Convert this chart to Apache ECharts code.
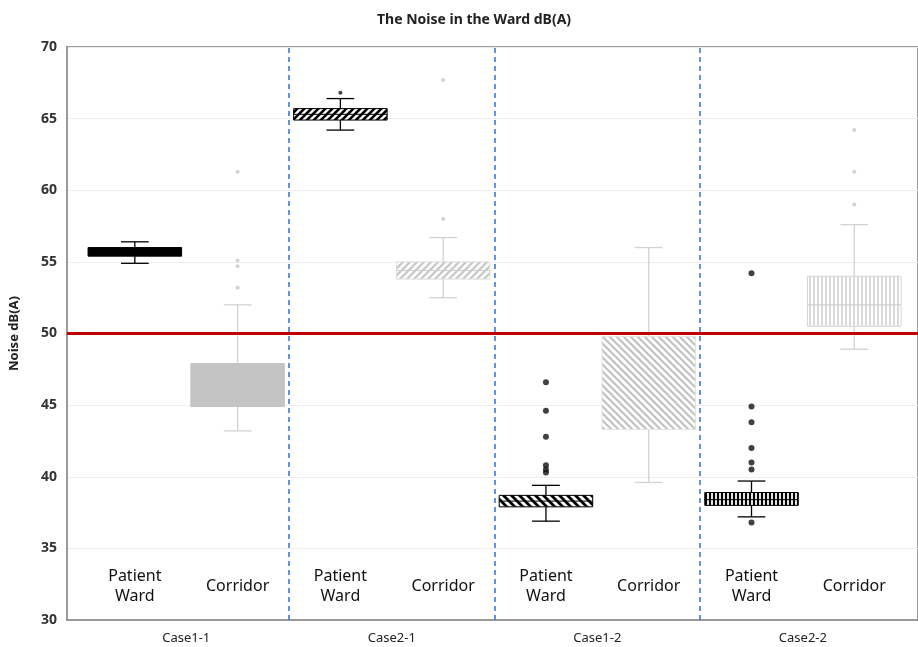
<!DOCTYPE html>
<html><head><meta charset="utf-8">
<script src="https://cdn.jsdelivr.net/npm/echarts@6/dist/echarts.min.js"></script>
<style>html,body{margin:0;padding:0;background:#fff}#c{width:918px;height:647px}</style>
</head><body><div id="c"></div>
<script>
// ---- data ----
const groupLabels = ['Patient\nWard', 'Corridor', 'Patient\nWard', 'Corridor', 'Patient\nWard', 'Corridor', 'Patient\nWard', 'Corridor'];
const caseLabels = ['Case1-1', 'Case2-1', 'Case1-2', 'Case2-2'];
const yTicks = [30, 35, 40, 45, 50, 55, 60, 65, 70];
const boxMin = [54.9, 43.2, 64.2, 52.5, 36.9, 39.6, 37.2, 48.9];
const boxQ1  = [55.4, 44.9, 64.9, 53.8, 37.9, 43.3, 38.0, 50.5];
const boxMed = [55.7, 46.0, 65.3, 54.4, 38.3, 46.5, 38.4, 52.0];
const boxQ3  = [56.0, 47.9, 65.7, 55.0, 38.7, 49.8, 38.9, 54.0];
const boxMax = [56.4, 52.0, 66.4, 56.7, 39.4, 56.0, 39.7, 57.6];
const wardOutliers = [[2, 66.8], [4, 46.6], [4, 44.6], [4, 42.8], [4, 40.8], [4, 40.5], [4, 40.3],
  [6, 54.2], [6, 44.9], [6, 43.8], [6, 42.0], [6, 41.0], [6, 40.5], [6, 36.8]];
const corridorOutliers = [[1, 61.3], [1, 55.1], [1, 54.7], [1, 53.2], [3, 67.7], [3, 58.0], [7, 64.2], [7, 61.3], [7, 59.0]];
const limitValue = 50;
const caseBoundaries = [1.5, 3.5, 5.5];

// ---- patterns ----
function hatch(color, bg, s, lw, dir) {
  const c = document.createElement('canvas');
  c.width = s; c.height = s;
  const g = c.getContext('2d');
  g.fillStyle = bg; g.fillRect(0, 0, s, s);
  g.strokeStyle = color; g.lineWidth = lw; g.lineCap = 'square';
  g.beginPath();
  if (dir === '|') {
    g.moveTo(s / 2, -1); g.lineTo(s / 2, s + 1);
  } else {
    for (const k of [-s, 0, s]) {
      if (dir === '/') { g.moveTo(k, s); g.lineTo(k + s, 0); }
      else { g.moveTo(k, 0); g.lineTo(k + s, s); }
    }
  }
  g.stroke();
  return { image: c, repeat: 'repeat' };
}
const grey = '#c6c6c6';
const boxStyles = [
  { fill: '#000', stroke: '#000', whisker: '#000', median: '#000' },
  { fill: '#c4c4c4', stroke: '#c4c4c4', whisker: '#d2d2d2', median: '#c4c4c4' },
  { fill: hatch('#000', '#fff', 7, 2.6, '/'), stroke: '#000', whisker: '#000', median: '#000' },
  { fill: hatch(grey, '#fbfbfb', 7, 2, '/'), stroke: '#dddddd', whisker: '#d2d2d2', median: '#cfcfcf' },
  { fill: hatch('#000', '#fff', 8, 2.8, '\\'), stroke: '#000', whisker: '#000', median: '#000' },
  { fill: hatch('#c2c2c2', '#fff', 7, 2.2, '\\'), stroke: '#e4e4e4', whisker: '#d2d2d2', median: null },
  { fill: hatch('#000', '#fff', 4, 2.2, '|'), stroke: '#000', whisker: '#000', median: '#000' },
  { fill: hatch('#c2c2c2', '#fff', 4, 1.2, '|'), stroke: '#d6d6d6', whisker: '#d2d2d2', median: '#c8c8c8' }
];

const boxData = boxMin.map((m, i) => [i, m, boxQ1[i], boxMed[i], boxQ3[i], boxMax[i]]);

function renderBox(params, api) {
  const i = api.value(0);
  const st = boxStyles[i];
  const x = api.coord([i, 0])[0];
  const yMin = api.coord([i, api.value(1)])[1];
  const yQ1 = api.coord([i, api.value(2)])[1];
  const yMed = api.coord([i, api.value(3)])[1];
  const yQ3 = api.coord([i, api.value(4)])[1];
  const yMax = api.coord([i, api.value(5)])[1];
  const w = api.size([0.91, 0])[0];
  const cw = api.size([0.27, 0])[0];
  const ls = { stroke: st.whisker, lineWidth: 1.3 };
  const children = [
    { type: 'line', shape: { x1: x, y1: yMax, x2: x, y2: yQ3 }, style: ls },
    { type: 'line', shape: { x1: x, y1: yQ1, x2: x, y2: yMin }, style: ls },
    { type: 'line', shape: { x1: x - cw / 2, y1: yMax, x2: x + cw / 2, y2: yMax }, style: ls },
    { type: 'line', shape: { x1: x - cw / 2, y1: yMin, x2: x + cw / 2, y2: yMin }, style: ls },
    { type: 'rect', shape: { x: x - w / 2, y: yQ3, width: w, height: yQ1 - yQ3 },
      style: { fill: st.fill, stroke: st.stroke, lineWidth: 1 } }
  ];
  if (st.median) {
    children.push({ type: 'line', shape: { x1: x - w / 2, y1: yMed, x2: x + w / 2, y2: yMed }, style: { stroke: st.median, lineWidth: 1 } });
  }
  return { type: 'group', children };
}

const xMin = -0.66, xMax = 7.62;
const chart = echarts.init(document.getElementById('c'), null, { renderer: 'canvas' });
chart.setOption({
  animation: false,
  backgroundColor: '#fff',
  title: {
    text: 'The Noise in the Ward dB(A)', left: 372, top: 8,
    textStyle: { fontSize: 14, fontWeight: 'bold', color: '#222', fontFamily: 'Noto Sans' }
  },
  grid: { left: 67, top: 47, right: -2, bottom: 27, show: true, borderColor: '#9a9a9a', borderWidth: 2 },
  xAxis: [{
    type: 'value', min: xMin, max: xMax, position: 'bottom',
    axisLine: { show: true, onZero: false, lineStyle: { color: '#9a9a9a', width: 2 } },
    axisTick: { show: false }, splitLine: { show: false },
    axisLabel: {
      customValues: groupLabels.map((_, i) => i), inside: true, margin: 34, verticalAlign: 'middle',
      formatter: v => groupLabels[Math.round(v)], fontSize: 16, lineHeight: 20, color: '#111', fontFamily: 'Noto Sans'
    }
  }, {
    type: 'value', min: xMin, max: xMax, position: 'bottom',
    axisLine: { show: false, onZero: false }, axisTick: { show: false }, splitLine: { show: false },
    axisLabel: {
      customValues: caseLabels.map((_, i) => i * 2 + 0.5), margin: 12,
      formatter: v => caseLabels[Math.round((v - 0.5) / 2)], fontSize: 13, color: '#222', fontFamily: 'Noto Sans'
    }
  }],
  yAxis: {
    type: 'value', min: yTicks[0], max: yTicks[yTicks.length - 1], interval: 5,
    name: 'Noise dB(A)', nameLocation: 'middle', nameGap: 46,
    nameTextStyle: { fontWeight: 'bold', fontSize: 13, color: '#222', fontFamily: 'Noto Sans' },
    axisLine: { show: true, onZero: false, lineStyle: { color: '#9a9a9a', width: 2 } },
    axisTick: { show: false },
    axisLabel: { fontWeight: 'bold', fontSize: 14, color: '#333', margin: 10, fontFamily: 'Noto Sans' },
    splitLine: { lineStyle: { color: '#eeeeee', width: 1 } }
  },
  series: [{
    type: 'custom', renderItem: renderBox, data: boxData,
    encode: { x: 0, y: [1, 2, 3, 4, 5] }, z: 3, silent: true
  }, {
    type: 'scatter', data: wardOutliers, symbol: 'circle', symbolSize: v => (v[0] === 2 ? 4 : 6),
    itemStyle: { color: '#111' }, z: 4, silent: true
  }, {
    type: 'scatter', data: corridorOutliers, symbol: 'circle', symbolSize: 4,
    itemStyle: { color: '#c8c8c8' }, z: 4, silent: true
  }, {
    type: 'line', data: [], z: 5, silent: true,
    markLine: {
      silent: true, symbol: ['none', 'none'], label: { show: false },
      lineStyle: { color: '#2f6fd6', type: [5, 4], width: 1.5, opacity: 1 },
      emphasis: { disabled: true },
      data: [
        ...caseBoundaries.map(b => ({ xAxis: b })),
        { yAxis: limitValue, lineStyle: { color: '#c00000', type: 'solid', width: 3 } }
      ]
    }
  }]
});
</script>
</body></html>
